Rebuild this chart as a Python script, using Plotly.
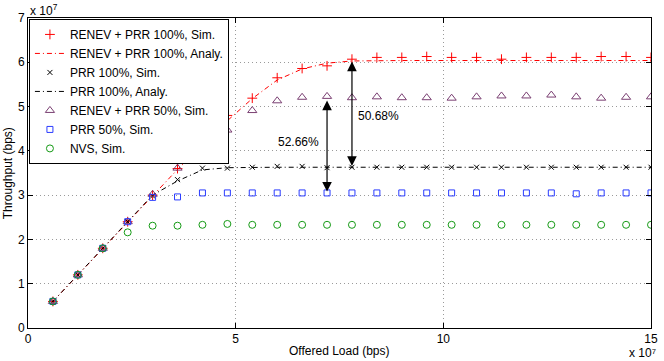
import plotly.graph_objects as go

# Offered load (x 10^7 bps)
offered_load = [0.6, 1.2, 1.8, 2.4, 3.0, 3.6, 4.2, 4.8, 5.4, 6.0, 6.6, 7.2, 7.8,
                8.4, 9.0, 9.6, 10.2, 10.8, 11.4, 12.0, 12.6, 13.2, 13.8, 14.4, 15.0]

# Throughput (x 10^7 bps)
renev_prr100_sim = [0.6, 1.2, 1.8, 2.4, 3.0, 3.6, 4.19, 4.80, 5.19, 5.65, 5.86, 5.92, 6.07,
                    6.11, 6.11, 6.13, 6.11, 6.11, 6.07, 6.11, 6.11, 6.11, 6.13, 6.13, 6.11]
renev_prr100_ana = [0.6, 1.2, 1.8, 2.4, 3.0, 3.58, 4.13, 4.68, 5.18, 5.60, 5.85, 5.98, 6.03,
                    6.04, 6.04, 6.04, 6.04, 6.04, 6.04, 6.04, 6.04, 6.04, 6.04, 6.04, 6.04]
prr100_sim = [0.6, 1.2, 1.8, 2.4, 2.98, 3.35, 3.61, 3.61, 3.63, 3.65, 3.65, 3.62, 3.63,
              3.63, 3.63, 3.63, 3.63, 3.63, 3.63, 3.63, 3.63, 3.63, 3.63, 3.63, 3.63]
prr100_ana = [0.6, 1.2, 1.8, 2.4, 3.0, 3.32, 3.57, 3.62, 3.63, 3.63, 3.63, 3.63, 3.63,
              3.63, 3.63, 3.63, 3.63, 3.63, 3.63, 3.63, 3.63, 3.63, 3.63, 3.63, 3.63]
renev_prr50_sim = [0.6, 1.2, 1.8, 2.4, 3.02, 3.61, 4.11, 4.47, 4.91, 5.13, 5.21, 5.23, 5.20,
                   5.22, 5.20, 5.20, 5.19, 5.22, 5.24, 5.24, 5.26, 5.22, 5.19, 5.21, 5.22]
prr50_sim = [0.6, 1.2, 1.8, 2.4, 2.95, 2.96, 3.05, 3.05, 3.05, 3.05, 3.05, 3.05, 3.05,
             3.05, 3.05, 3.05, 3.05, 3.05, 3.05, 3.05, 3.05, 3.03, 3.05, 3.05, 3.05]
nvs_sim = [0.6, 1.2, 1.8, 2.16, 2.31, 2.31, 2.33, 2.35, 2.33, 2.33, 2.33, 2.33, 2.33,
           2.33, 2.33, 2.33, 2.33, 2.33, 2.33, 2.33, 2.33, 2.33, 2.33, 2.33, 2.33]

series_names = ["RENEV + PRR 100%, Sim.", "RENEV + PRR 100%, Analy.", "PRR 100%, Sim.",
                "PRR 100%, Analy.", "RENEV + PRR 50%, Sim.", "PRR 50%, Sim.", "NVS, Sim."]

x_ticks = [0, 5, 10, 15]
y_ticks = [0, 1, 2, 3, 4, 5, 6, 7]

# Gap annotations: (x, y_from, y_to, label, label_x, label_y)
gap1 = (7.2, 5.17, 3.08, "52.66%", 6.52, 4.2)
gap2 = (7.8, 6.05, 3.66, "50.68%", 8.45, 4.79)

FONT = "Liberation Sans, Arial, sans-serif"
DASHDOT = "5px,3px,1px,3px"

fig = go.Figure()
fig.add_trace(go.Scatter(x=offered_load, y=renev_prr100_sim, mode="markers", name=series_names[0],
                         marker=dict(symbol="cross-thin", size=7, line=dict(color="#ff0000", width=1))))
fig.add_trace(go.Scatter(x=offered_load, y=renev_prr100_ana, mode="lines", name=series_names[1],
                         line=dict(color="#ff0000", width=1, dash=DASHDOT)))
fig.add_trace(go.Scatter(x=offered_load, y=prr100_sim, mode="markers", name=series_names[2],
                         marker=dict(symbol="x-thin", size=5, line=dict(color="#000000", width=1))))
fig.add_trace(go.Scatter(x=offered_load, y=prr100_ana, mode="lines", name=series_names[3],
                         line=dict(color="#000000", width=1, dash=DASHDOT)))
fig.add_trace(go.Scatter(x=offered_load, y=renev_prr50_sim, mode="markers", name=series_names[4],
                         marker=dict(symbol="triangle-up-open", size=8, color="#7a3f72",
                                     line=dict(width=1))))
fig.add_trace(go.Scatter(x=offered_load, y=prr50_sim, mode="markers", name=series_names[5],
                         marker=dict(symbol="square-open", size=6, color="#2a3cff",
                                     line=dict(width=1))))
fig.add_trace(go.Scatter(x=offered_load, y=nvs_sim, mode="markers", name=series_names[6],
                         marker=dict(symbol="circle-open", size=7, color="#159a15",
                                     line=dict(width=1))))

for gx, y0, y1, label, lx, ly in (gap1, gap2):
    fig.add_annotation(x=gx, y=y1, ax=gx, ay=y0, xref="x", yref="y", axref="x", ayref="y",
                       text="", showarrow=True, arrowside="end+start", arrowhead=2,
                       startarrowhead=2, arrowsize=1.6, startarrowsize=1.6, arrowwidth=1.2,
                       arrowcolor="#000000")
    fig.add_annotation(x=lx, y=ly, xref="x", yref="y", text=label, showarrow=False,
                       font=dict(family=FONT, size=12, color="#000000"))

fig.add_annotation(x=(8 - 28) / 630, y=0.5, xref="paper", yref="paper", text="Throughput (bps)",
                   xanchor="center", yanchor="middle",
                   textangle=-90, showarrow=False, font=dict(family=FONT, size=12, color="#000000"))
fig.add_annotation(x=0.5, y=(328.3 - 351) / 310.3, xref="paper", yref="paper",
                   xanchor="center", yanchor="middle",
                   text="Offered Load (bps)", showarrow=False,
                   font=dict(family=FONT, size=12, color="#000000"))
fig.add_annotation(x=0, y=(328.3 - 10) / 310.3, xref="paper", yref="paper", xanchor="left",
                   yanchor="middle", text="x 10<sup>7</sup>", showarrow=False,
                   font=dict(family=FONT, size=12, color="#000000"))
fig.add_annotation(x=(664 - 28) / 630, y=(328.3 - 361) / 310.3, xref="paper", yref="paper",
                   xanchor="right", yanchor="bottom", text="x 10\u2077", showarrow=False,
                   borderpad=0,
                   font=dict(family=FONT, size=12, color="#000000"))

axis_common = dict(showline=True, linecolor="#000000", linewidth=1, mirror="ticks",
                   ticks="inside", ticklen=5, tickcolor="#000000", showgrid=True,
                   gridcolor="#9a9a9a", griddash="1px,3px", gridwidth=1, zeroline=False,
                   ticklabeloverflow="allow",
                   tickfont=dict(family=FONT, size=12, color="#000000"))

fig.update_xaxes(range=[0, 15], tickvals=x_ticks, ticktext=[str(v) for v in x_ticks], **axis_common)
fig.update_yaxes(range=[0, 7], tickvals=y_ticks, ticktext=[str(v) for v in y_ticks], **axis_common)

fig.update_layout(
    width=664, height=361, autosize=False,
    margin=dict(l=28, r=6, t=18, b=33),
    paper_bgcolor="#ffffff", plot_bgcolor="#ffffff",
    font=dict(family=FONT, size=12, color="#000000"),
    legend=dict(x=0.0015, y=0.997, xanchor="left", yanchor="top", bgcolor="#ffffff",
                bordercolor="#000000", borderwidth=1, font=dict(family=FONT, size=12),
                itemwidth=30, tracegroupgap=0),
    showlegend=True,
)

fig.write_html("out.html", config={"displayModeBar": False},
               post_script="document.body.style.margin='0px';document.body.style.overflow='hidden';")
